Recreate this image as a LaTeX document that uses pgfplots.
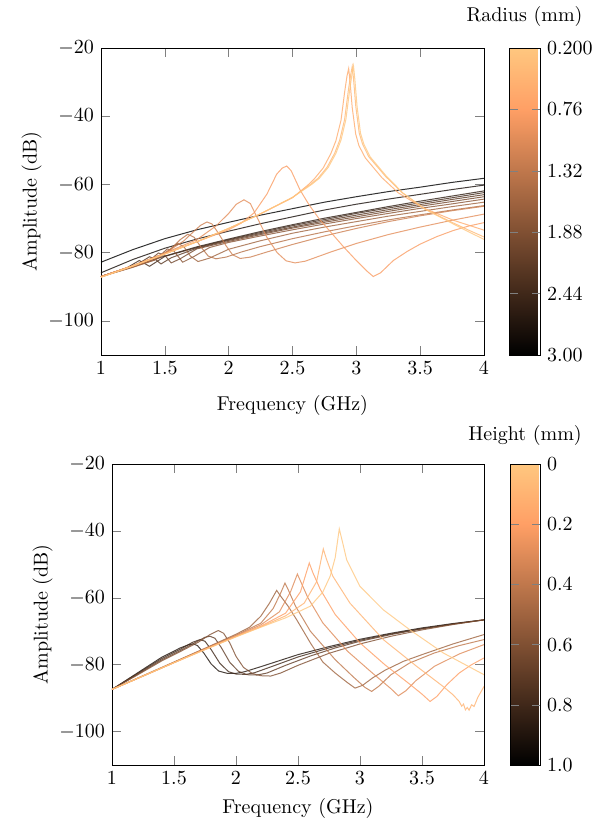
\documentclass[border=0pt]{standalone}
\usepackage{pgfplots}
\pgfplotsset{compat=1.18}
% copper colours, top (radius 0.2 ... 3.0)
\definecolor{r02}{rgb}{1.000,0.781,0.498}
\definecolor{r04}{rgb}{1.000,0.725,0.462}
\definecolor{r06}{rgb}{1.000,0.670,0.426}
\definecolor{r08}{rgb}{0.982,0.614,0.391}
\definecolor{r10}{rgb}{0.893,0.558,0.355}
\definecolor{r12}{rgb}{0.804,0.502,0.320}
\definecolor{r14}{rgb}{0.714,0.446,0.284}
\definecolor{r16}{rgb}{0.625,0.391,0.249}
\definecolor{r18}{rgb}{0.536,0.335,0.213}
\definecolor{r20}{rgb}{0.446,0.279,0.178}
\definecolor{r22}{rgb}{0.357,0.223,0.142}
\definecolor{r24}{rgb}{0.268,0.167,0.107}
\definecolor{r26}{rgb}{0.179,0.112,0.071}
\definecolor{r28}{rgb}{0.089,0.056,0.036}
\definecolor{r30}{rgb}{0,0,0}
% bottom (height 0 ... 0.9)
\definecolor{h0}{rgb}{1.000,0.781,0.498}
\definecolor{h1}{rgb}{1.000,0.703,0.448}
\definecolor{h2}{rgb}{1.000,0.625,0.398}
\definecolor{h3}{rgb}{0.875,0.547,0.348}
\definecolor{h4}{rgb}{0.750,0.469,0.299}
\definecolor{h5}{rgb}{0.625,0.391,0.249}
\definecolor{h6}{rgb}{0.500,0.312,0.199}
\definecolor{h7}{rgb}{0.375,0.234,0.149}
\definecolor{h8}{rgb}{0.250,0.156,0.100}
\definecolor{h9}{rgb}{0.125,0.078,0.050}
\pgfplotsset{
  cv/.style={line width=0.5pt, opacity=0.8},
  mybase/.style={scale only axis, xmin=1, xmax=4, ymin=-110, ymax=-20,
    xtick={1,1.5,2,2.5,3,3.5,4}, ytick={-100,-80,-60,-40,-20},
    xlabel={Frequency (GHz)}, ylabel={Amplitude (dB)}, ylabel shift=-3.5pt,
    colormap={mycopper}{rgb255(0cm)=(0,0,0); rgb255(0.8cm)=(255,159,101); rgb255(1cm)=(255,199,127)},
    colorbar, point meta min=0, point meta max=1},
}
\begin{document}
\begin{tikzpicture}
\path[use as bounding box] (-50.5pt,24pt) rectangle (253.5pt,-386pt);
\begin{axis}[mybase, name=top, at={(0pt,0pt)}, anchor=north west,
  width=191.5pt, height=153.5pt, xlabel shift=3.5pt,
  colorbar style={at={(parent axis.north east)}, anchor=north west, xshift=4pt,
    width=15.5pt, height=153.5pt, scale only axis,
    ytick={0,0.2,0.4,0.6,0.8,1}, yticklabels={3.00,2.44,1.88,1.32,0.76,0.200},
    title={Radius (mm)}, title style={yshift=1pt}}]
% R = 3.0
\addplot[cv, color=r30] coordinates {(1,-82.8)(1.25,-79.1)(1.5,-75.9)(1.75,-73.3)(2,-71.1)(2.25,-69.0)(2.5,-67.1)(2.75,-65.2)(3,-63.6)(3.25,-62.1)(3.5,-60.8)(3.75,-59.4)(4,-58.2)};
% R = 2.8
\addplot[cv, color=r28] coordinates {(1,-85.9)(1.25,-82.0)(1.5,-78.7)(1.75,-76.0)(2,-73.7)(2.25,-71.5)(2.5,-69.5)(2.75,-67.5)(3,-65.8)(3.25,-64.3)(3.5,-62.9)(3.75,-61.5)(4,-60.2)};
% R = 2.6
\addplot[cv, color=r26] coordinates {(1,-87)(1.25,-83.9)(1.5,-81.0)(1.75,-78.3)(2,-76.0)(2.25,-73.8)(2.5,-71.8)(2.75,-69.9)(3,-68.2)(3.25,-66.5)(3.5,-64.9)(3.75,-63.4)(4,-61.9)};
% R = 2.4
\addplot[cv, color=r24] coordinates {(1,-87)(1.2,-84.5)(1.3,-82.3)(1.38,-84.0)(1.5,-81.1)(1.75,-78.5)(2,-76.2)(2.25,-74.1)(2.5,-72.1)(2.75,-70.3)(3,-68.5)(3.25,-66.9)(3.5,-65.4)(3.75,-63.9)(4,-62.4)};
% R = 2.2
\addplot[cv, color=r22] coordinates {(1,-87)(1.25,-84.0)(1.32,-82.6)(1.38,-81.2)(1.42,-81.8)(1.47,-83.3)(1.55,-81.5)(1.75,-78.7)(2,-76.4)(2.25,-74.4)(2.5,-72.5)(2.75,-70.7)(3,-69.0)(3.25,-67.4)(3.5,-65.9)(3.75,-64.4)(4,-63.0)};
% R = 2.0
\addplot[cv, color=r20] coordinates {(1,-87)(1.25,-84.1)(1.38,-82.3)(1.45,-80.1)(1.5,-80.8)(1.55,-83.0)(1.62,-81.8)(1.75,-78.9)(2,-76.7)(2.25,-74.7)(2.5,-72.8)(2.75,-71.1)(3,-69.5)(3.25,-67.9)(3.5,-66.4)(3.75,-65.0)(4,-63.6)};
% R = 1.8
\addplot[cv, color=r18] coordinates {(1,-87)(1.25,-84.2)(1.42,-82.2)(1.52,-78.9)(1.57,-79.5)(1.64,-82.8)(1.72,-81.3)(1.85,-78.5)(2,-77.0)(2.25,-75.1)(2.5,-73.3)(2.75,-71.6)(3,-70.0)(3.25,-68.5)(3.5,-67.0)(3.75,-65.7)(4,-64.3)};
% R = 1.6
\addplot[cv, color=r16] coordinates {(1,-87)(1.25,-84.3)(1.45,-81.7)(1.55,-78.8)(1.6,-77.2)(1.65,-78.3)(1.7,-81.0)(1.76,-82.6)(1.85,-81.6)(2,-79.0)(2.25,-76.5)(2.5,-74.3)(2.75,-72.5)(3,-70.9)(3.25,-69.3)(3.5,-67.9)(3.75,-66.5)(4,-65.2)};
% R = 1.4
\addplot[cv, color=r14] coordinates {(1,-87)(1.25,-84.1)(1.45,-81.3)(1.55,-78.8)(1.62,-76.2)(1.68,-74.6)(1.73,-75.5)(1.78,-78.2)(1.84,-81.0)(1.9,-81.8)(1.98,-81.3)(2.1,-79.8)(2.25,-78.2)(2.5,-75.9)(2.75,-73.9)(3,-72.1)(3.25,-70.4)(3.5,-68.9)(3.75,-67.5)(4,-66.2)};
% R = 1.2
\addplot[cv, color=r12] coordinates {(1,-87)(1.25,-83.9)(1.5,-80.2)(1.65,-76.5)(1.72,-74.0)(1.78,-72.0)(1.83,-71.0)(1.87,-71.6)(1.92,-74.3)(1.98,-78.0)(2.03,-80.6)(2.09,-81.7)(2.17,-81.3)(2.3,-79.8)(2.5,-77.6)(2.75,-75.1)(3,-72.9)(3.25,-70.9)(3.5,-69.2)(3.75,-67.7)(4,-66.4)};
% R = 1.0
\addplot[cv, color=r10] coordinates {(1,-87)(1.25,-83.8)(1.5,-80.1)(1.75,-76.2)(1.9,-72.2)(2.0,-68.5)(2.06,-65.8)(2.12,-64.5)(2.17,-65.6)(2.22,-69.5)(2.3,-75.5)(2.38,-80.0)(2.45,-82.4)(2.52,-83.0)(2.6,-82.5)(2.8,-79.8)(3,-77.3)(3.25,-74.7)(3.5,-72.5)(3.75,-70.5)(4,-68.7)};
% R = 0.8
\addplot[cv, color=r08] coordinates {(1,-87)(1.25,-83.8)(1.5,-80.3)(1.75,-76.8)(2,-73.3)(2.1,-71.3)(2.2,-68.3)(2.3,-62.8)(2.376,-57.0)(2.42,-55.2)(2.455,-54.6)(2.49,-56.0)(2.559,-61.6)(2.63,-66.0)(2.715,-70.4)(2.8,-74.0)(2.9,-78.3)(3.0,-82.3)(3.08,-85.3)(3.133,-87.0)(3.19,-85.9)(3.29,-82.3)(3.4,-79.6)(3.5,-77.5)(3.63,-75.3)(3.76,-73.5)(3.88,-72.2)(4,-71.2)};
% R = 0.6
\addplot[cv, color=r06] coordinates {(1,-87.2)(1.25,-83.9)(1.5,-80.4)(1.75,-76.8)(2,-72.9)(2.25,-68.6)(2.5,-63.9)(2.62,-60.2)(2.67,-58.4)(2.74,-55.2)(2.80,-51.0)(2.84,-47.2)(2.88,-41.2)(2.91,-32.5)(2.927,-28.2)(2.94,-26.0)(2.95,-29.5)(2.968,-37.5)(2.995,-45.2)(3.02,-48.6)(3.07,-52.2)(3.2,-58.0)(3.33,-62.5)(3.52,-66.8)(3.76,-70.5)(4,-73.4)};
% R = 0.4
\addplot[cv, color=r04] coordinates {(1,-87.2)(1.25,-83.9)(1.5,-80.4)(1.75,-76.8)(2,-72.9)(2.25,-68.6)(2.5,-63.8)(2.64,-60.0)(2.70,-58.2)(2.77,-55.0)(2.83,-50.9)(2.87,-47.0)(2.908,-41.0)(2.938,-32.3)(2.955,-28.0)(2.968,-25.4)(2.978,-29.0)(2.996,-37.2)(3.023,-45.0)(3.05,-48.3)(3.098,-51.9)(3.228,-57.6)(3.358,-62.4)(3.54,-67.3)(3.76,-71.3)(3.88,-73.4)(4,-75.4)};
% R = 0.2
\addplot[cv, color=r02] coordinates {(1,-87.2)(1.25,-83.9)(1.5,-80.4)(1.75,-76.8)(2,-72.9)(2.25,-68.6)(2.5,-63.8)(2.65,-60.0)(2.71,-58.2)(2.78,-55.0)(2.84,-50.9)(2.88,-47.0)(2.918,-41.0)(2.948,-32.3)(2.965,-28.0)(2.978,-25.3)(2.988,-29.0)(3.006,-37.2)(3.033,-45.0)(3.06,-48.3)(3.108,-51.9)(3.238,-57.7)(3.368,-62.6)(3.55,-67.5)(3.76,-71.6)(3.88,-73.9)(4,-76.1)};
\end{axis}
\begin{axis}[mybase, name=bot, at={(5.5pt,-208pt)}, anchor=north west,
  width=186pt, height=150.5pt,
  colorbar style={at={(parent axis.north east)}, anchor=north west, xshift=4.5pt,
    width=15pt, height=150.5pt, scale only axis,
    ytick={0,0.2,0.4,0.6,0.8,1}, yticklabels={1.0,0.8,0.6,0.4,0.2,0},
    title={Height (mm)}, title style={yshift=-0.5pt}}]
% H = 0.9
\addplot[cv, color=h9] coordinates {(1,-87.4)(1.2,-82.6)(1.4,-77.8)(1.55,-75.0)(1.62,-74.0)(1.656,-73.8)(1.69,-74.3)(1.74,-76.5)(1.8,-79.8)(1.86,-81.9)(1.93,-82.6)(2.0,-82.6)(2.07,-82.1)(2.2,-80.6)(2.5,-77.0)(2.75,-74.6)(3,-72.4)(3.25,-70.6)(3.5,-69.0)(3.75,-67.7)(4,-66.6)};
% H = 0.8
\addplot[cv, color=h8] coordinates {(1,-87.4)(1.2,-82.8)(1.4,-78.2)(1.55,-75.4)(1.65,-73.3)(1.71,-72.5)(1.75,-73.0)(1.8,-75.5)(1.87,-79.6)(1.94,-82.1)(2.0,-82.8)(2.08,-82.9)(2.15,-82.4)(2.3,-80.4)(2.5,-77.7)(2.75,-75.0)(3,-72.7)(3.25,-70.8)(3.5,-69.2)(3.75,-67.8)(4,-66.6)};
% H = 0.7
\addplot[cv, color=h7] coordinates {(1,-87.4)(1.2,-83.0)(1.4,-78.6)(1.55,-75.8)(1.68,-73.2)(1.75,-71.8)(1.79,-71.5)(1.83,-72.1)(1.88,-74.8)(1.95,-79.3)(2.02,-82.0)(2.09,-83.0)(2.17,-83.1)(2.25,-82.5)(2.4,-80.2)(2.6,-77.4)(2.8,-75.0)(3,-73.0)(3.25,-71.0)(3.5,-69.3)(3.75,-67.9)(4,-66.6)};
% H = 0.6
\addplot[cv, color=h6] coordinates {(1,-87.4)(1.2,-83.2)(1.4,-78.9)(1.55,-76.1)(1.7,-73.2)(1.79,-71.0)(1.857,-69.8)(1.9,-70.6)(1.95,-73.5)(2.0,-77.5)(2.06,-80.8)(2.13,-82.6)(2.2,-83.3)(2.28,-83.4)(2.36,-82.5)(2.5,-80.2)(2.75,-76.6)(3,-73.8)(3.25,-71.5)(3.5,-69.6)(3.75,-68.0)(4,-66.6)};
% H = 0.5
\addplot[cv, color=h5] coordinates {(1,-87.4)(1.25,-83.3)(1.5,-79.2)(1.75,-75.1)(2,-70.9)(2.11,-68.8)(2.2,-65.5)(2.27,-61.6)(2.328,-57.8)(2.36,-59.5)(2.42,-62.5)(2.49,-66.6)(2.6,-73.5)(2.7,-79.2)(2.8,-82.5)(2.9,-85.4)(2.96,-87.0)(3.02,-86.2)(3.1,-84.0)(3.2,-81.7)(3.35,-79.0)(3.5,-77.0)(3.75,-73.8)(4,-71.0)};
% H = 0.4
\addplot[cv, color=h4] coordinates {(1,-87.4)(1.25,-83.4)(1.5,-79.3)(1.75,-75.2)(2,-71.2)(2.2,-67.6)(2.3,-63.2)(2.36,-58.6)(2.395,-55.6)(2.42,-57.5)(2.48,-62.5)(2.6,-70.0)(2.8,-78.5)(2.95,-83.8)(3.04,-86.8)(3.094,-88.0)(3.15,-86.5)(3.25,-83.0)(3.4,-79.5)(3.6,-76.5)(3.8,-74.3)(4,-72.5)};
% H = 0.3
\addplot[cv, color=h3] coordinates {(1,-87.4)(1.25,-83.4)(1.5,-79.4)(1.75,-75.3)(2,-71.4)(2.2,-68.1)(2.35,-64.2)(2.44,-58.2)(2.495,-52.9)(2.52,-55.0)(2.58,-60.0)(2.7,-67.5)(2.9,-76.0)(3.1,-82.5)(3.25,-87.2)(3.309,-89.3)(3.37,-87.8)(3.45,-84.8)(3.6,-80.5)(3.8,-76.8)(4,-74.0)};
% H = 0.2
\addplot[cv, color=h2] coordinates {(1,-87.4)(1.25,-83.4)(1.5,-79.4)(1.75,-75.4)(2,-71.5)(2.2,-68.5)(2.4,-64.6)(2.52,-58.2)(2.591,-49.6)(2.62,-52.5)(2.68,-57.5)(2.8,-65.0)(3.0,-73.5)(3.2,-80.0)(3.4,-85.8)(3.5,-88.8)(3.565,-91.0)(3.62,-89.5)(3.7,-86.0)(3.8,-82.5)(3.9,-80.0)(4,-78.0)};
% H = 0.1
\addplot[cv, color=h1] coordinates {(1,-87.4)(1.25,-83.4)(1.5,-79.4)(1.75,-75.5)(2,-71.6)(2.2,-68.7)(2.4,-65.4)(2.55,-61.6)(2.65,-55.2)(2.704,-45.4)(2.73,-48.5)(2.78,-53.5)(2.919,-61.6)(3.188,-72.5)(3.457,-80.5)(3.67,-86.5)(3.75,-89.0)(3.8,-91.0)(3.82,-92.4)(3.835,-91.8)(3.85,-93.5)(3.865,-92.8)(3.88,-93.6)(3.9,-92.0)(3.92,-92.5)(3.95,-89.8)(4,-86.5)};
% H = 0
\addplot[cv, color=h0] coordinates {(1,-87.4)(1.25,-83.4)(1.5,-79.4)(1.75,-75.5)(2,-71.7)(2.2,-68.8)(2.4,-66.0)(2.6,-62.5)(2.7,-58.3)(2.76,-53.5)(2.8,-48.0)(2.833,-39.4)(2.86,-43.5)(2.893,-48.7)(3.0,-56.6)(3.188,-63.6)(3.403,-69.6)(3.672,-76.5)(4,-83.0)};
\end{axis}
\end{tikzpicture}
\end{document}
